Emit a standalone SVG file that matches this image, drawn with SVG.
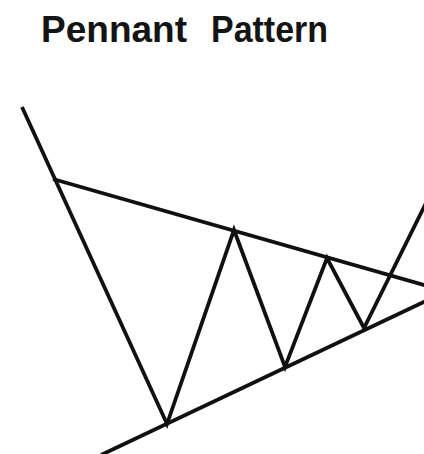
<svg xmlns="http://www.w3.org/2000/svg" width="424" height="454" viewBox="0 0 424 454">
<style>
.ln{fill:none;stroke:#111;stroke-width:3.8;stroke-linejoin:miter;stroke-linecap:butt}
.title{font-family:"Liberation Sans",Arial,sans-serif;font-weight:bold;font-size:36px;fill:#141414}
</style>
<rect width="424" height="454" fill="#fff"/>
<text class="title" y="42"><tspan x="41" textLength="146" lengthAdjust="spacingAndGlyphs">Pennant</tspan> <tspan x="211" textLength="117" lengthAdjust="spacingAndGlyphs">Pattern</tspan></text>
<g id="trendlines">
<line id="upper-trendline" class="ln" x1="53" y1="179" x2="426" y2="285.5"/>
<line id="lower-trendline" class="ln" x1="101" y1="455" x2="426" y2="301"/>
</g>
<g id="price">
<polyline class="ln" points="22,107 167,424 234,230 285,367 327,258 364,328 428,199"/>
</g>
</svg>
